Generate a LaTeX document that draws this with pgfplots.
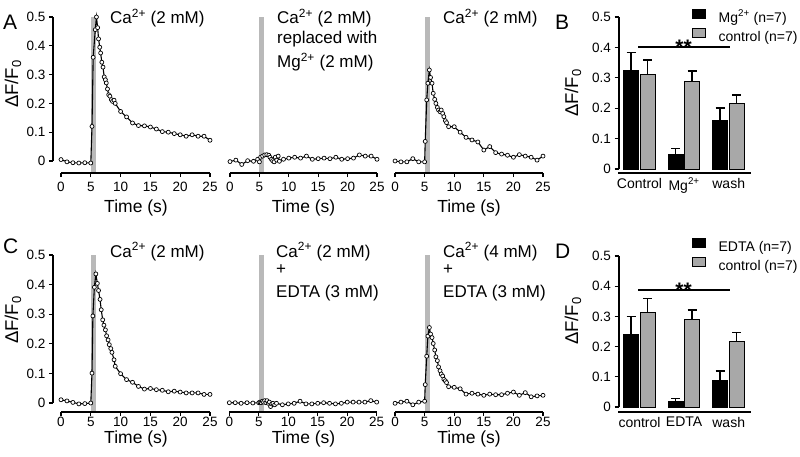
\documentclass[border=0pt]{standalone}
\usepackage{fontspec}
\setmainfont{Liberation Sans}
\usepackage{pgfplots}
\pgfplotsset{compat=1.18}
\definecolor{stimgray}{RGB}{185,185,185}
\definecolor{bargray}{RGB}{168,168,168}
\newcommand{\fs}[1]{\fontsize{#1}{#1}\selectfont}
\pgfplotsset{
  tr/.style={
    scale only axis, height=156pt,
    xmin=-1.342, xmax=25, ymax=0.5,
    axis line style={draw=none},
    xtick={0,5,10,15,20,25},
    xtick pos=left, ytick pos=left,
    tick align=outside, major tick length=4pt,
    tick style={black, line width=1.1pt},
    clip=false,
    tick label style={font=\fs{13.5}},
    /pgf/number format/assume math mode=true,
    anchor=south west,
  },
  trace/.style={black, line width=1.1pt, mark=*, mark size=2pt,
    mark options={fill=white, line width=0.7pt, solid}},
  bc/.style={
    scale only axis, width=132pt, height=156pt,
    xmin=-0.46, xmax=2.5, ymax=0.5,
    axis line style={draw=none},
    xtick={0,1,2}, ytick={0,0.1,0.2,0.3,0.4,0.5},
    xtick pos=left, ytick pos=left,
    tick align=outside, major tick length=4.5pt,
    tick style={black, line width=1.2pt},
    every major x tick/.append style={draw=none},
    xticklabel style={yshift=3pt, font=\fs{14}},
    clip=false,
    tick label style={font=\fs{13.5}},
    /pgf/number format/assume math mode=true,
    anchor=south west,
    legend style={draw=none, fill=none, inner sep=0pt, font=\fs{14},
      row sep=3pt, column sep=0pt, nodes={inner sep=0pt, text height=11pt, text depth=3pt}},
    legend cell align=left,
  },
  blackbar/.style={ybar, bar width=15pt, bar shift=0pt, fill=black, draw=black, line width=0.8pt,
    legend image code/.code={\draw[##1, line width=0.8pt] (0pt,0pt) rectangle (13pt,9pt); \path[draw=none, fill=none] (0pt,0pt) rectangle (26pt,0.1pt);},
    error bars/.cd, y dir=plus, y explicit,
    error bar style={line width=1.5pt, black},
    error mark options={rotate=90, line width=1.5pt, mark size=4.5pt, black}},
  graybar/.style={ybar, bar width=15pt, bar shift=0pt, fill=bargray, draw=black, line width=0.8pt,
    legend image code/.code={\draw[##1, line width=0.8pt] (0pt,0pt) rectangle (13pt,9pt); \path[draw=none, fill=none] (0pt,0pt) rectangle (26pt,0.1pt);},
    error bars/.cd, y dir=plus, y explicit,
    error bar style={line width=1.5pt, black},
    error mark options={rotate=90, line width=1.5pt, mark size=4.5pt, black}},
}
\begin{document}
\begin{tikzpicture}[x=1pt,y=1pt]
\useasboundingbox (0,0) rectangle (800,456);

% ---------------- Row A ----------------
\begin{axis}[tr, at={(53pt,283pt)}, width=157pt, ymin=-0.0417,
  ytick={0,0.1,0.2,0.3,0.4,0.5}, xticklabel style={yshift=-2pt}]
\addplot[draw=none, fill=stimgray] coordinates {(5,-0.0417) (5.85,-0.0417) (5.85,0.5) (5,0.5)} -- cycle;
\addplot[trace] coordinates {
(0,0.005) (1,-0.003) (2,-0.006) (3,-0.007) (4,-0.006) (5,-0.007)
(5.2,0.12) (5.4,0.36) (5.75,0.456) (5.95,0.5) (6.15,0.463) (6.3,0.424)
(6.5,0.395) (6.65,0.375) (6.85,0.343) (7.05,0.326) (7.25,0.292) (7.45,0.282)
(7.6,0.271) (7.8,0.25) (8.0,0.23) (8.2,0.225) (8.45,0.213) (8.65,0.207)
(8.9,0.211) (9.1,0.2) (10,0.172) (11,0.153) (12,0.132) (13,0.123)
(14,0.122) (15,0.118) (16,0.111) (17,0.102) (18,0.1) (19,0.095)
(20,0.091) (21,0.086) (22,0.091) (23,0.086) (24,0.086) (25,0.072)};
\draw[line width=1.1pt] (axis cs:0,-0.0417) -- (axis cs:25,-0.0417);
\draw[line width=1.1pt] (axis cs:-1.342,0) -- (axis cs:-1.342,0.5);
\end{axis}

\begin{axis}[tr, at={(222.1pt,283pt)}, width=154.9pt, ymin=-0.0417,
  ytick=\empty, xticklabel style={yshift=-2pt}]
\addplot[draw=none, fill=stimgray] coordinates {(5,-0.0417) (5.85,-0.0417) (5.85,0.5) (5,0.5)} -- cycle;
\addplot[trace] coordinates {
(0,-0.002) (1,0.003) (2,-0.012) (3,0.001) (4,-0.001) (4.7,0.006) (5.0,-0.003)
(5.2,0.013) (5.55,0.017) (5.9,0.021) (6.25,0.022) (6.6,0.02) (6.8,0.013)
(7.05,0.006) (7.25,0.001) (7.5,-0.003) (7.7,0.013) (7.95,0.003) (8.2,0.017)
(8.4,-0.001) (9.1,0.006) (10,0.01) (11,0.013) (12,0.01) (13,0.017)
(14,0.006) (15,0.008) (16,0.01) (17,0.008) (18,0.013) (19,0.006)
(20,0.008) (21,0.01) (22,0.021) (23,0.017) (24,0.017) (25,0.006)};
\draw[line width=1.1pt] (axis cs:0,-0.0417) -- (axis cs:25,-0.0417);
\end{axis}

\begin{axis}[tr, at={(387.1pt,283pt)}, width=155.9pt, ymin=-0.0417,
  ytick=\empty, xticklabel style={yshift=-2pt}]
\addplot[draw=none, fill=stimgray] coordinates {(5,-0.0417) (5.85,-0.0417) (5.85,0.5) (5,0.5)} -- cycle;
\addplot[trace] coordinates {
(0,0) (1,-0.003) (2,-0.003) (3,0.008) (4,-0.003) (5,-0.003)
(5.1,0.068) (5.35,0.212) (5.55,0.27) (5.8,0.316) (6.0,0.29) (6.25,0.27)
(6.45,0.235) (6.7,0.214) (6.9,0.2) (7.15,0.186) (7.35,0.177) (7.6,0.171)
(7.8,0.177) (8.05,0.165) (8.25,0.154) (8.5,0.14) (8.7,0.133) (9.05,0.119)
(10,0.119) (11,0.1) (12,0.082) (13,0.073) (14,0.066) (15,0.038)
(16,0.05) (17,0.029) (18,0.024) (19,0.02) (20,0.013) (21,0.022)
(22,0.017) (23,0.013) (24,0.003) (25,0.017)};
\draw[line width=1.1pt] (axis cs:0,-0.0417) -- (axis cs:25,-0.0417);
\end{axis}

% ---------------- Row C ----------------
\begin{axis}[tr, at={(53pt,44pt)}, width=157pt, height=157pt, ymin=-0.0304,
  ytick={0,0.1,0.2,0.3,0.4,0.5}, xticklabel style={yshift=2.5pt}]
\addplot[draw=none, fill=stimgray] coordinates {(5,-0.0304) (5.85,-0.0304) (5.85,0.5) (5,0.5)} -- cycle;
\addplot[trace] coordinates {
(0,0.011) (1,0.007) (2,0.002) (3,-0.003) (4,-0.002) (5,0)
(5.2,0.101) (5.35,0.294) (5.6,0.391) (5.85,0.436) (6.1,0.404) (6.3,0.38)
(6.55,0.35) (6.75,0.315) (7.0,0.281) (7.2,0.263) (7.45,0.247) (7.65,0.227)
(7.9,0.213) (8.1,0.197) (8.35,0.184) (8.55,0.171) (8.9,0.146) (9.1,0.124)
(10,0.099) (11,0.079) (12,0.07) (13,0.056) (14,0.047) (15,0.049)
(16,0.045) (17,0.043) (18,0.038) (19,0.04) (20,0.037) (21,0.034)
(22,0.034) (23,0.034) (24,0.029) (25,0.029)};
\draw[line width=1.1pt] (axis cs:0,-0.0304) -- (axis cs:25,-0.0304);
\draw[line width=1.1pt] (axis cs:-1.342,0) -- (axis cs:-1.342,0.5);
\end{axis}

\begin{axis}[tr, at={(221.4pt,44pt)}, width=155.3pt, height=157pt, ymin=-0.0304,
  ytick=\empty, xticklabel style={yshift=2.5pt}]
\addplot[draw=none, fill=stimgray] coordinates {(5,-0.0304) (5.85,-0.0304) (5.85,0.5) (5,0.5)} -- cycle;
\addplot[trace] coordinates {
(0,0.001) (1,0.001) (2,-0.001) (3,0.001) (4,0) (5,0.001)
(5.2,0.003) (5.4,0.001) (5.6,0.006) (5.8,0.003) (6.0,0.008) (6.2,0.001)
(6.4,0.008) (6.6,-0.001) (6.8,0.003) (7.0,-0.012) (7.2,-0.003) (7.4,-0.001)
(7.7,-0.006) (8.0,-0.001) (9,-0.006) (10,-0.003) (11,-0.001) (12,0.006)
(13,-0.003) (14,-0.003) (15,-0.001) (16,0.001) (17,-0.001) (18,-0.003)
(19,-0.001) (20,0.003) (21,0.003) (22,0.003) (23,0.003) (24,0.008) (25,0.003)};
\draw[line width=1.1pt] (axis cs:0,-0.0304) -- (axis cs:25,-0.0304);
\end{axis}

\begin{axis}[tr, at={(387.1pt,44pt)}, width=155.9pt, height=157pt, ymin=-0.0304,
  ytick=\empty, xticklabel style={yshift=2.5pt}]
\addplot[draw=none, fill=stimgray] coordinates {(5,-0.0304) (5.85,-0.0304) (5.85,0.5) (5,0.5)} -- cycle;
\addplot[trace] coordinates {
(0,-0.001) (1,0.003) (2,0.006) (3,-0.006) (4,0.003) (5,0.006)
(5.1,0.062) (5.35,0.158) (5.55,0.226) (5.8,0.255) (6.0,0.233) (6.25,0.221)
(6.45,0.201) (6.7,0.179) (6.9,0.156) (7.15,0.143) (7.35,0.122) (7.6,0.109)
(7.8,0.098) (8.05,0.091) (8.25,0.08) (8.5,0.075) (8.7,0.069) (9.05,0.055)
(10,0.053) (11,0.048) (12,0.03) (13,0.033) (14,0.03) (15,0.026)
(16,0.03) (17,0.028) (18,0.028) (19,0.033) (20,0.037) (21,0.026)
(22,0.035) (23,0.021) (24,0.024) (25,0.026)};
\draw[line width=1.1pt] (axis cs:0,-0.0304) -- (axis cs:25,-0.0304);
\end{axis}

% ---------------- Panel B ----------------
\begin{axis}[bc, at={(619pt,283pt)}, ymin=-0.0132,
  xticklabels={Control, Mg\textsuperscript{2+}, wash},
  legend style={at={(0.553,1.0545)}, anchor=north west}]
\addplot[blackbar] coordinates {(-0.191,0.323) +- (0,0.060) (0.809,0.049) +- (0,0.018) (1.809,0.161) +- (0,0.039)};
\addlegendentry{Mg\textsuperscript{2+} (n=7)}
\addplot[graybar] coordinates {(0.180,0.311) +- (0,0.047) (1.180,0.289) +- (0,0.033) (2.180,0.217) +- (0,0.027)};
\addlegendentry{control (n=7)}
\addplot[black, line width=2.5pt, no marks, forget plot] coordinates {(-0.034,0.401) (2.03,0.401)};
\node[font=\bfseries\fs{21}, anchor=base, inner sep=0pt] at (axis cs:0.99,0.375) {**};
\draw[line width=1.2pt] (axis cs:-0.48,-0.0132) -- (axis cs:2.5,-0.0132);
\draw[line width=1.2pt] (axis cs:-0.46,0) -- (axis cs:-0.46,0.5);
\end{axis}

% ---------------- Panel D ----------------
\begin{axis}[bc, at={(619pt,44pt)}, ymin=-0.0166,
  xticklabels={control, EDTA, wash},
  legend style={at={(0.553,1.1186)}, anchor=north west}]
\addplot[blackbar] coordinates {(-0.191,0.240) +- (0,0.059) (0.809,0.017) +- (0,0.011) (1.809,0.089) +- (0,0.030)};
\addlegendentry{EDTA (n=7)}
\addplot[graybar] coordinates {(0.180,0.312) +- (0,0.048) (1.180,0.290) +- (0,0.031) (2.180,0.218) +- (0,0.028)};
\addlegendentry{control (n=7)}
\addplot[black, line width=2.5pt, no marks, forget plot] coordinates {(-0.034,0.388) (2.03,0.388)};
\node[font=\bfseries\fs{21}, anchor=base, inner sep=0pt] at (axis cs:0.99,0.363) {**};
\draw[line width=1.2pt] (axis cs:-0.48,-0.0166) -- (axis cs:2.5,-0.0166);
\draw[line width=1.2pt] (axis cs:-0.46,0) -- (axis cs:-0.46,0.5);
\end{axis}

% ---------------- Text ----------------
\begin{scope}[every node/.style={inner sep=0pt}]
\node[anchor=base west, font=\fs{21}] at (3,426) {A};
\node[anchor=base west, font=\fs{21}] at (555,426) {B};
\node[anchor=base west, font=\fs{21}] at (3,203) {C};
\node[anchor=base west, font=\fs{21}] at (555,198) {D};

\node[rotate=90, anchor=base, font=\fs{18.5}] at (18,372) {ΔF/F\textsubscript{0}};
\node[rotate=90, anchor=base, font=\fs{18.5}] at (18,136) {ΔF/F\textsubscript{0}};
\node[rotate=90, anchor=base, font=\fs{18.5}] at (578,363) {ΔF/F\textsubscript{0}};
\node[rotate=90, anchor=base, font=\fs{18.5}] at (578,135) {ΔF/F\textsubscript{0}};

\node[anchor=base, font=\fs{17.5}] at (136,244) {Time (s)};
\node[anchor=base, font=\fs{17.5}] at (303.5,244) {Time (s)};
\node[anchor=base, font=\fs{17.5}] at (469,244) {Time (s)};
\node[anchor=base, font=\fs{17.5}] at (136,12.5) {Time (s)};
\node[anchor=base, font=\fs{17.5}] at (303.5,12.5) {Time (s)};
\node[anchor=base, font=\fs{17.5}] at (469,12.5) {Time (s)};

\node[anchor=base west, font=\fs{17}] at (110,432) {Ca\textsuperscript{2+} (2 mM)};
\node[anchor=base west, font=\fs{17}] at (277,432) {Ca\textsuperscript{2+} (2 mM)};
\node[anchor=base west, font=\fs{17}] at (277,412) {replaced with};
\node[anchor=base west, font=\fs{17}] at (277,388) {Mg\textsuperscript{2+} (2 mM)};
\node[anchor=base west, font=\fs{17}] at (443,432) {Ca\textsuperscript{2+} (2 mM)};

\node[anchor=base west, font=\fs{17}] at (110,199) {Ca\textsuperscript{2+} (2 mM)};
\node[anchor=base west, font=\fs{17}] at (276,199) {Ca\textsuperscript{2+} (2 mM)};
\node[anchor=base west, font=\fs{17}] at (276,182) {+};
\node[anchor=base west, font=\fs{17}] at (276,159) {EDTA (3 mM)};
\node[anchor=base west, font=\fs{17}] at (443,199) {Ca\textsuperscript{2+} (4 mM)};
\node[anchor=base west, font=\fs{17}] at (443,182) {+};
\node[anchor=base west, font=\fs{17}] at (443,159) {EDTA (3 mM)};
\end{scope}
\end{tikzpicture}
\end{document}
